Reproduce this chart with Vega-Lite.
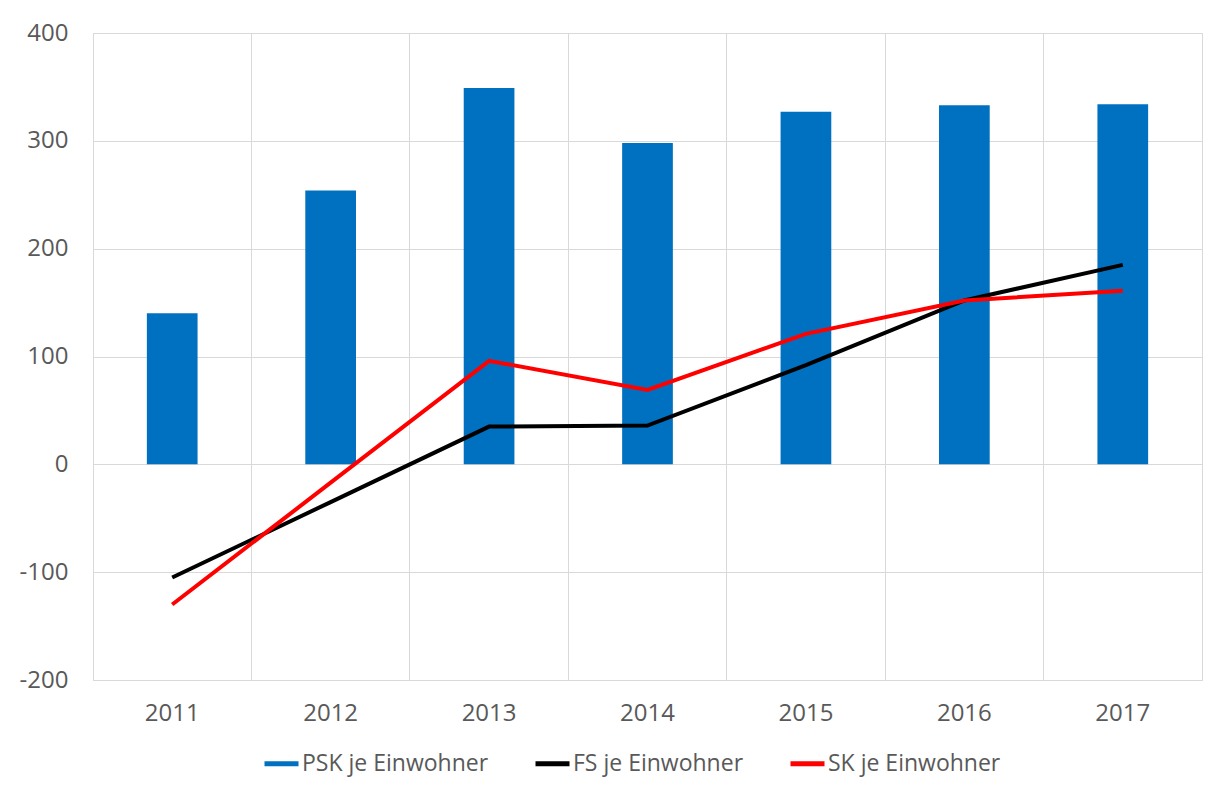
{
  "$schema": "https://vega.github.io/schema/vega-lite/v6.json",
  "width": 1109,
  "height": 647,
  "autosize": "none",
  "padding": {"left": 93, "top": 33, "right": 16, "bottom": 112},
  "background": "white",
  "config": {
    "view": {"stroke": "#d9d9d9", "strokeWidth": 1},
    "font": "Open Sans"
  },
  "title": {
    "text": "2011 bis 2017, in €",
    "anchor": "start",
    "frame": "group",
    "dx": -93,
    "dy": 7,
    "baseline": "alphabetic",
    "offset": 15,
    "fontSize": 23,
    "fontWeight": "normal",
    "color": "#262626"
  },
  "data": {
    "values": [
      {"year": "2011", "series": "PSK je Einwohner", "value": 140},
      {"year": "2012", "series": "PSK je Einwohner", "value": 254},
      {"year": "2013", "series": "PSK je Einwohner", "value": 349},
      {"year": "2014", "series": "PSK je Einwohner", "value": 298},
      {"year": "2015", "series": "PSK je Einwohner", "value": 327},
      {"year": "2016", "series": "PSK je Einwohner", "value": 333},
      {"year": "2017", "series": "PSK je Einwohner", "value": 334},
      {"year": "2011", "series": "FS je Einwohner", "value": -105},
      {"year": "2012", "series": "FS je Einwohner", "value": -35},
      {"year": "2013", "series": "FS je Einwohner", "value": 35},
      {"year": "2014", "series": "FS je Einwohner", "value": 36},
      {"year": "2015", "series": "FS je Einwohner", "value": 92},
      {"year": "2016", "series": "FS je Einwohner", "value": 152},
      {"year": "2017", "series": "FS je Einwohner", "value": 185},
      {"year": "2011", "series": "SK je Einwohner", "value": -130},
      {"year": "2012", "series": "SK je Einwohner", "value": -17},
      {"year": "2013", "series": "SK je Einwohner", "value": 96},
      {"year": "2014", "series": "SK je Einwohner", "value": 69},
      {"year": "2015", "series": "SK je Einwohner", "value": 121},
      {"year": "2016", "series": "SK je Einwohner", "value": 152},
      {"year": "2017", "series": "SK je Einwohner", "value": 161}
    ]
  },
  "encoding": {
    "x": {
      "field": "year",
      "type": "ordinal",
      "scale": {"paddingInner": 0, "paddingOuter": 0},
      "axis": {
        "title": null,
        "labelAngle": 0,
        "labelFontSize": 24,
        "labelColor": "#595959",
        "labelPadding": 21,
        "domain": false,
        "ticks": false,
        "grid": true,
        "bandPosition": 0,
        "gridColor": "#d9d9d9",
        "gridWidth": 1
      }
    },
    "y": {
      "field": "value",
      "type": "quantitative",
      "scale": {"domain": [-200, 400], "nice": false},
      "axis": {
        "title": null,
        "values": [-200, -100, 0, 100, 200, 300, 400],
        "labelExpr": "'' + datum.value",
        "labelFontSize": 24,
        "labelColor": "#595959",
        "labelPadding": 25,
        "domain": false,
        "ticks": false,
        "grid": true,
        "gridColor": "#d9d9d9",
        "gridWidth": 1
      }
    },
    "color": {
      "field": "series",
      "type": "nominal",
      "scale": {
        "domain": ["PSK je Einwohner", "FS je Einwohner", "SK je Einwohner"],
        "range": ["#0070C0", "#000000", "#FF0000"]
      },
      "legend": {
        "title": null,
        "orient": "none",
        "direction": "horizontal",
        "legendX": 169,
        "legendY": 711,
        "labelFontSize": 23,
        "labelColor": "#595959",
        "labelLimit": 400,
        "labelOffset": 1,
        "columnPadding": 36,
        "symbolSize": 1156,
        "symbolType": "stroke",
        "symbolStrokeWidth": 5,
        "symbolFillColor": "transparent"
      }
    }
  },
  "layer": [
    {
      "transform": [{"filter": "datum.series === 'PSK je Einwohner'"}],
      "mark": {"type": "bar", "width": {"band": 0.32}}
    },
    {
      "transform": [{"filter": "datum.series !== 'PSK je Einwohner'"}],
      "mark": {"type": "line", "strokeWidth": 4}
    }
  ]
}
